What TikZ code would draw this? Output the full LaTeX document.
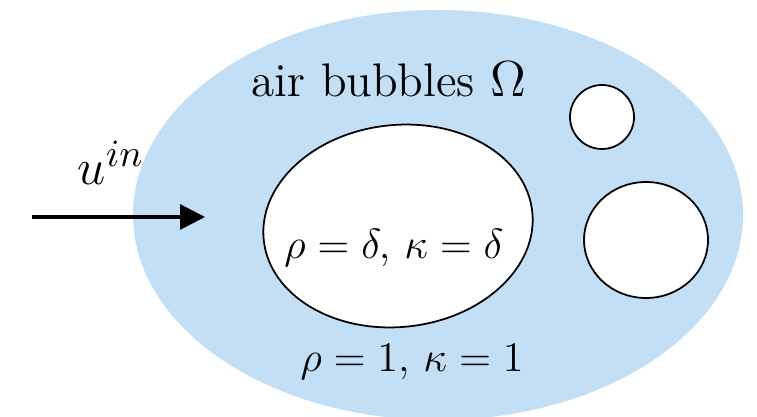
\documentclass[tikz,border=0pt]{standalone}
\usepackage{amsmath,amssymb}
\usepackage{xcolor}
\usetikzlibrary{arrows.meta,positioning}

\definecolor{fluidblue}{RGB}{194,223,246}
\tikzset{
  bubble/.style={fill=white, draw=black, line width=0.5pt},
  incident/.style={line width=0.9pt, -{Triangle[length=2.5mm,width=2.5mm]}},
}

\begin{document}
\begin{tikzpicture}
      \useasboundingbox (0,0) rectangle (7.57,4.16);
      % Fluid domain
      \begin{scope}
        \clip (0,0) rectangle (7.57,4.16);
        \fill[fluidblue] (4.38,2.01) ellipse [x radius=3.05, y radius=2.05];
      \end{scope}

      % Bubbles
      \draw[bubble, rotate around={6:(3.98,1.90)}] (3.98,1.90) ellipse [x radius=1.35, y radius=1.01];
      \draw[bubble] (6.02,2.99) ellipse [x radius=0.32, y radius=0.32];
      \draw[bubble] (6.46,1.76) ellipse [x radius=0.62, y radius=0.58];

      % Labels
      \node[anchor=base] (title) at (3.89,3.19) {\fontsize{13.4}{16}\selectfont air bubbles $\Omega$};
      \node[anchor=base] (inner) at (3.94,1.57) {\fontsize{12}{14}\selectfont $\rho=\delta,\, \kappa=\delta$};
      \node[anchor=base] (outer) at (4.12,0.44) {\fontsize{12}{14}\selectfont $\rho=1,\, \kappa=1$};

      % Incident wave
      \coordinate (src) at (0.32,1.99);
      \coordinate (dst) at (2.05,1.99);
      \draw[incident] (src) -- (dst);
      \node[anchor=base] (uin) at (1.11,2.31) {\fontsize{15}{18}\selectfont $u^{in}$};
\end{tikzpicture}
\end{document}
